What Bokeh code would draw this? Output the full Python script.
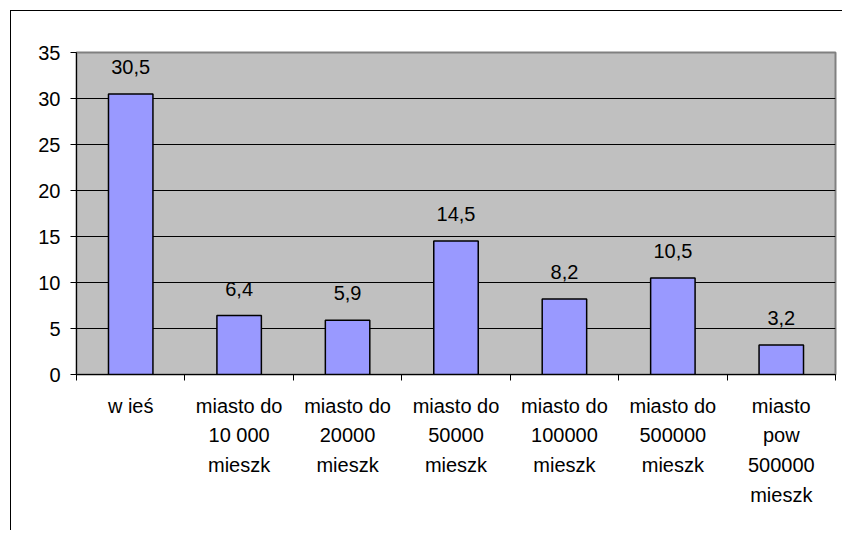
from bokeh.plotting import figure
from bokeh.models import FixedTicker, LabelSet, ColumnDataSource, Range1d
from bokeh.core.properties import value
from bokeh.embed import file_html
from bokeh.resources import INLINE

# --- data ---
categories = [
    ["w ieś"],
    ["miasto do", "10 000", "mieszk"],
    ["miasto do", "20000", "mieszk"],
    ["miasto do", "50000", "mieszk"],
    ["miasto do", "100000", "mieszk"],
    ["miasto do", "500000", "mieszk"],
    ["miasto", "pow", "500000", "mieszk"],
]
values = [30.5, 6.4, 5.9, 14.5, 8.2, 10.5, 3.2]
y_ticks = [0, 5, 10, 15, 20, 25, 30, 35]

FONT = "Liberation Sans"
FS = "20px"

n = len(values)
xs = [i + 0.5 for i in range(n)]
value_texts = [f"{v:.1f}".replace(".", ",") for v in values]

p = figure(
    width=832, height=520,
    x_range=Range1d(0, n), y_range=Range1d(0, 35),
    output_backend="svg", toolbar_location=None,
    min_border_left=65, min_border_top=41, min_border_right=8, min_border_bottom=157,
)
p.styles = {"margin-left": "10px", "margin-top": "10px",
            "border-left": "1px solid black", "border-top": "1px solid black"}

p.background_fill_color = "#C0C0C0"
p.border_fill_color = "white"
p.outline_line_color = "#808080"
p.outline_line_width = 2

p.xgrid.grid_line_color = None
p.ygrid.grid_line_color = "black"
p.ygrid.grid_line_width = 1
p.ygrid.ticker = FixedTicker(ticks=y_ticks)

# y axis
p.yaxis.ticker = FixedTicker(ticks=y_ticks)
p.yaxis.axis_line_color = "black"
p.yaxis.major_tick_line_color = "black"
p.yaxis.major_tick_out = 6
p.yaxis.major_tick_in = 0
p.yaxis.minor_tick_line_color = None
p.yaxis.major_label_standoff = 10
p.yaxis.major_label_text_font = FONT
p.yaxis.major_label_text_font_size = FS
p.yaxis.major_label_text_color = "black"

# x axis: labels at category centres, tick marks at category boundaries
p.xaxis.ticker = FixedTicker(ticks=xs, minor_ticks=list(range(n + 1)))
p.xaxis.major_label_overrides = {x: "\n".join(lines) for x, lines in zip(xs, categories)}
p.xaxis.axis_line_color = "black"
p.xaxis.major_tick_line_color = None
p.xaxis.major_tick_out = 0
p.xaxis.major_tick_in = 0
p.xaxis.minor_tick_line_color = "black"
p.xaxis.minor_tick_out = 6
p.xaxis.minor_tick_in = 0
p.xaxis.major_label_standoff = 14
p.xaxis.major_label_text_font = FONT
p.xaxis.major_label_text_font_size = FS
p.xaxis.major_label_text_color = "black"
p.xaxis.major_label_text_line_height = 1.35
p.xaxis.major_label_text_align = "center"

p.vbar(x=xs, top=values, bottom=0, width=0.41,
       fill_color="#9999FF", line_color="black", line_width=1.5)

src = ColumnDataSource(dict(x=xs, y=values, t=value_texts))
p.add_layout(LabelSet(x="x", y="y", text="t", source=src, y_offset=20,
                      text_align="center", text_baseline="alphabetic",
                      text_font=value(FONT), text_font_size=FS, text_color="black"))

open("out.html", "w").write(file_html(p, INLINE))
